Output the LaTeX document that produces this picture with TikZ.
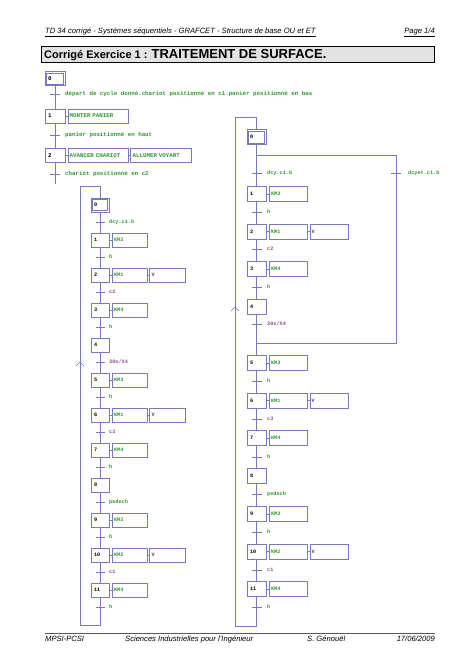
\documentclass[tikz,border=0pt]{standalone}
\usepackage{fontspec}
\setmainfont{Liberation Sans}
\newfontfamily\gmono{Liberation Mono}
\definecolor{gline}{RGB}{120,120,190}
\definecolor{ggreen}{RGB}{50,150,50}
\definecolor{gpurple}{RGB}{140,80,140}
\definecolor{gdark}{RGB}{90,70,70}
\newcommand\gsl{/}
\newcommand\sfont{\gmono\bfseries\fontsize{5.2}{6}\selectfont}
\newcommand\tfont{\gmono\bfseries\fontsize{5.8}{7}\selectfont}
\begin{document}
\begin{tikzpicture}[x=1pt,y=-1pt,
 lk/.style={draw=gline,line width=0.6pt},
 stpA/.style={lk,inner sep=0pt,minimum width=20pt,minimum height=14pt,text width=14pt,align=left,font=\tfont},
 actA/.style={lk,inner sep=0pt,minimum width=60pt,minimum height=14pt,text width=57pt,align=left,font=\tfont,text=ggreen},
 stpL/.style={lk,inner sep=0pt,minimum width=18pt,minimum height=14pt,text width=12pt,align=left,font=\sfont},
 actL/.style={lk,inner sep=0pt,minimum width=35pt,minimum height=14pt,text width=32pt,align=left,font=\sfont,text=ggreen},
 stpR/.style={lk,inner sep=0pt,minimum width=19pt,minimum height=15pt,text width=13pt,align=left,font=\sfont},
 actR/.style={lk,inner sep=0pt,minimum width=38pt,minimum height=15pt,text width=35pt,align=left,font=\sfont,text=ggreen},
 trt/.style={anchor=west,inner sep=0pt,font=\sfont},
 tra/.style={anchor=west,inner sep=0pt,font=\tfont,text=ggreen},
 hdr/.style={inner sep=0pt,font=\itshape\fontsize{7.6}{9}\selectfont}
]
\fill[white] (0,0) rectangle (474,670);
\useasboundingbox (0,0) rectangle (474,670);

% header
\node[hdr,anchor=base west] (hd) at (45,33) {\underline{TD 34 corrigé - Systèmes séquentiels - GRAFCET - Structure de base OU et ET}};
\node[hdr,anchor=base east] (pg) at (435,33) {\underline{Page 1/4}};

% title
\fill[black!80] (42,47) rectangle (435,63);
\draw[fill=gray!22,line width=0.8pt] (41,46) rectangle (434,62);
\node[anchor=base west,inner sep=0pt] (ttl) at (44,58) {{\fontsize{11}{13}\selectfont\bfseries Corrigé Exercice 1 : }{\fontsize{13}{15}\selectfont\bfseries TRAITEMENT DE SURFACE.}};

% footer
\draw[line width=0.5pt,gray!70!black] (45,633) -- (435,633);
\node[hdr,anchor=base west] (f1) at (45,641) {MPSI-PCSI};
\node[hdr,anchor=base west] (f2) at (125,641) {Sciences Industrielles pour l'Ingénieur};
\node[hdr,anchor=base west] (f3) at (307,641) {S. Génouël};
\node[hdr,anchor=base east] (f4) at (435,641) {17/06/2009};

% ---------- top-left grafcet
\node[stpA] (A0) at (55,78.5) {0};
\draw[lk] ([shift={(2pt,-2pt)}]A0.north west) rectangle ([shift={(-2pt,2pt)}]A0.south east);
\node[stpA] (A1) at (55,116) {1};
\node[stpA] (A2) at (55,155.5) {2};
\node[actA,anchor=west] (AA1) at ([xshift=2.5pt]A1.east) {MONTER PANIER};
\node[actA,anchor=west] (AA2) at ([xshift=2.5pt]A2.east) {AVANCER CHARIOT};
\node[actA,anchor=west,minimum width=61pt] (AV2) at ([xshift=2pt]AA2.east) {ALLUMER VOYANT};
\draw[lk] (A1) -- (AA1);
\draw[lk] (A2) -- (AA2);
\draw[lk] (AA2) -- (AV2);
\coordinate (Aend) at (55,184);
\draw[lk] (A0) -- (A1);
\draw[lk] (A1) -- (A2);
\draw[lk] (A2) -- (Aend);
\foreach \y/\t in {94/départ de cycle donné.chariot positionné en c1.panier positionné en bas,135/panier positionné en haut,174/chariot positionné en c2}{
  \draw[lk] (50,\y) -- (60,\y);
  \node[tra] at (65,\y) {\t};
}

% ---------- left chain
\foreach \i in {0,...,11}{
  \pgfmathsetmacro\yy{205+35*\i}
  \node[stpL] (L\i) at (100,\yy) {\i};
}
\draw[lk] ([shift={(2pt,-2pt)}]L0.north west) rectangle ([shift={(-2pt,2pt)}]L0.south east);
\foreach \i [evaluate=\i as \j using int(\i+1)] in {0,...,10}{
  \draw[lk] (L\i) -- (L\j);
}
\foreach \i/\a in {1/KM3,2/KM1,3/KM4,5/KM3,6/KM1,7/KM4,9/KM3,10/KM2,11/KM4}{
  \node[actL,anchor=west] (LA\i) at ([xshift=3pt]L\i.east) {\a};
  \draw[lk] (L\i) -- (LA\i);
}
\foreach \i in {2,6,10}{
  \node[actL,anchor=west,minimum width=36pt,text=gdark] (LV\i) at ([xshift=1.5pt]LA\i.east) {V};
  \draw[lk] (LA\i) -- (LV\i);
}
\foreach \i/\t/\c in {0/dcy.c1.b/ggreen,1/h/ggreen,2/c2/gpurple,3/h/ggreen,4/30s\gsl X4/gpurple,5/h/ggreen,6/c3/gpurple,7/h/ggreen,8/pedech/ggreen,9/h/ggreen,10/c1/gpurple,11/h/ggreen}{
  \pgfmathsetmacro\yy{222+35*\i}
  \draw[lk] (95.5,\yy) -- (104.5,\yy);
  \node[trt,text=\c] at (109,\yy) {\t};
}
\coordinate (Lb1) at (100,625);
\coordinate (Lb2) at (80,625);
\coordinate (Lt2) at (80,186);
\coordinate (Lt1) at (100,186);
\draw[lk] (L11) -- (Lb1) -- (Lb2) -- (Lt2) -- (Lt1) -- (L0);
\draw[lk] (76,366) -- (80,362) -- (84,366);

% ---------- right chain
\foreach \i/\yy in {0/137,1/194,2/231.5,3/269,4/306.5,5/363,6/400.5,7/438,8/476,9/514,10/551.5,11/589}{
  \node[stpR] (R\i) at (256.5,\yy) {\i};
}
\draw[lk] ([shift={(2pt,-2pt)}]R0.north west) rectangle ([shift={(-2pt,2pt)}]R0.south east);
\foreach \i [evaluate=\i as \j using int(\i+1)] in {0,...,10}{
  \draw[lk] (R\i) -- (R\j);
}
\foreach \i/\a in {1/KM3,2/KM1,3/KM4,5/KM3,6/KM1,7/KM4,9/KM3,10/KM2,11/KM4}{
  \node[actR,anchor=west] (RA\i) at ([xshift=3pt]R\i.east) {\a};
  \draw[lk] (R\i) -- (RA\i);
}
\foreach \i in {2,6,10}{
  \node[actR,anchor=west,text=gdark] (RV\i) at ([xshift=2pt]RA\i.east) {V};
  \draw[lk] (RA\i) -- (RV\i);
}
\foreach \yy/\t/\c in {173/dcy.c1.b/ggreen,212/h/ggreen,249/c2/gpurple,287/h/ggreen,324/30s\gsl X4/gpurple,381/h/ggreen,419/c3/gpurple,457/h/ggreen,494/pedech/ggreen,532/h/ggreen,570/c1/gpurple,607/h/ggreen}{
  \draw[lk] (251.5,\yy) -- (261.5,\yy);
  \node[trt,text=\c] at (267,\yy) {\t};
}
% OR divergence / convergence
\coordinate (Rd1) at (256.5,155);
\coordinate (Rd2) at (396,155);
\coordinate (Rc2) at (396,343);
\coordinate (Rc1) at (256.5,343);
\draw[lk] (Rd1) -- (Rd2) -- (Rc2) -- (Rc1);
\draw[lk] (391,173) -- (401,173);
\node[trt,text=ggreen] (Rtr) at (408,173) {dcyet.c1.b};
% loop
\coordinate (Rb1) at (256.5,626);
\coordinate (Rb2) at (235,626);
\coordinate (Rt2) at (235,117);
\coordinate (Rt1) at (256.5,117);
\draw[lk] (R11) -- (Rb1) -- (Rb2) -- (Rt2) -- (Rt1) -- (R0);
\draw[lk] (231,311) -- (235,307) -- (239,311);
\end{tikzpicture}
\end{document}
